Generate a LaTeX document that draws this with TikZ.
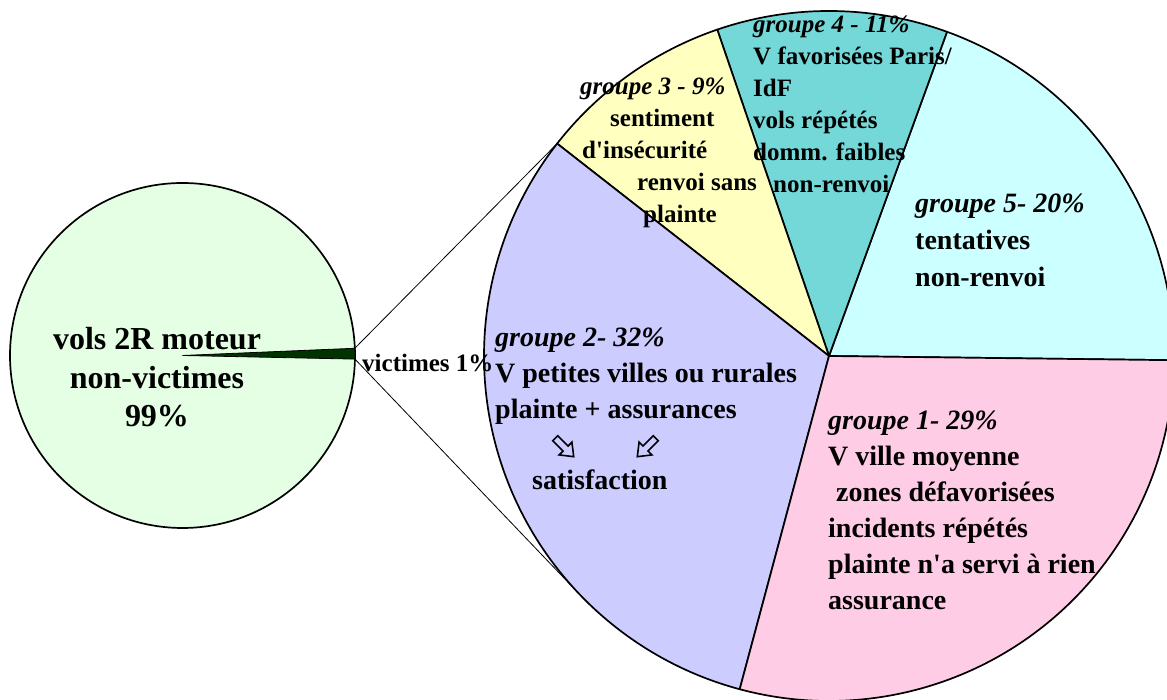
\documentclass[tikz,border=0pt]{standalone}
\usepackage{fontspec}
\setmainfont{Liberation Serif}
\definecolor{bgreen}{RGB}{229,255,229}
\definecolor{dgreen}{RGB}{0,51,0}
\definecolor{gblue}{RGB}{204,204,255}
\definecolor{gyellow}{RGB}{255,255,192}
\definecolor{gteal}{RGB}{117,216,216}
\definecolor{gcyan}{RGB}{204,255,255}
\definecolor{gpink}{RGB}{255,204,230}
\tikzset{
  slice/.style={draw=black, line width=1.7pt, line join=round},
  conn/.style={draw=black, line width=0.8pt},
  lbl/.style={inner sep=0pt, anchor=base west, text=black},
  big/.style={font=\fontsize{32}{38.5}\selectfont\bfseries},
  mid/.style={font=\fontsize{28}{36}\selectfont\bfseries},
  small/.style={font=\fontsize{25}{32}\selectfont\bfseries},
  harrow/.pic={\draw[line width=1.6pt, line join=miter]
     (-13,-3.5) -- (1.5,-3.5) -- (1.5,-9) -- (13,0) -- (1.5,9) -- (1.5,3.5) -- (-13,3.5) -- cycle;}
}
\newcommand\pieslice[3]{\filldraw[fill=#1, slice] (B) -- ++(#2:345) arc[start angle=#2, end angle=#3, radius=345] -- cycle;}
\begin{document}
\begin{tikzpicture}[x=1pt,y=1pt]
\useasboundingbox (0,0) rectangle (1167,700);
\clip (0,0) rectangle (1167,700);
\coordinate (S) at (182.5,344.5);
\coordinate (B) at (829,344);
% left pie
\filldraw[fill=bgreen, slice] (S) circle[radius=172.5];
\node[big, inner sep=0pt, anchor=base] (lefttext) at (157,350)
  {\begin{tabular}[t]{@{}c@{}}vols 2R moteur\\non-victimes\\99\%\end{tabular}};
\filldraw[fill=dgreen, draw=black, line width=0.8pt] (S) -- ++(-1.2:172.5) arc[start angle=-1.2, end angle=2.4, radius=172.5] -- cycle;
\coordinate (wt) at ([shift={(2.4:172.5)}]S);
\coordinate (wb) at ([shift={(-1.2:172.5)}]S);
% big pie
\pieslice{gcyan}{-0.7}{70}
\pieslice{gteal}{70}{108.9}
\pieslice{gyellow}{108.9}{142}
\pieslice{gblue}{142}{255}
\pieslice{gpink}{255}{359.3}
\coordinate (pt) at ([shift={(142:345)}]B);
\coordinate (pb) at ([shift={(223.6:345)}]B);
\draw[conn] (wt) -- (pt);
\draw[conn] (wb) -- (pb);
% labels
\node[lbl, font=\fontsize{25}{30}\selectfont\bfseries] (vict) at (362,328) {victimes 1\%};
\node[lbl, mid] (g1) at (828,270) {\begin{tabular}[t]{@{}l@{}}\textit{groupe 1- 29\%}\\V ville moyenne\\\hspace*{8pt}zones défavorisées\\incidents répétés\\plainte n\textquotesingle a servi à rien\\assurance\end{tabular}};
\node[lbl, mid] (g2) at (495,353) {\begin{tabular}[t]{@{}l@{}}\textit{groupe 2- 32\%}\\V petites villes ou rurales\\plainte + assurances\end{tabular}};
\node[lbl, mid] (sat) at (532,210) {satisfaction};
\pic[rotate=-45] at (564.5,252.5) {harrow};
\pic[rotate=-135] at (646.5,252.5) {harrow};
\node[lbl, small] (g3) at (580,605) {\begin{tabular}[t]{@{}l@{}}\textit{groupe 3 - 9\%}\\\hspace*{30pt}sentiment\\\hspace*{2pt}d\textquotesingle insécurité\\\hspace*{57pt}renvoi sans\\\hspace*{63pt}plainte\end{tabular}};
\node[lbl, small] (g4) at (753,667) {\begin{tabular}[t]{@{}l@{}}\textit{groupe 4 - 11\%}\\V favorisées Paris/\\IdF\\vols répétés\\domm. faibles\\\hspace*{20pt}non-renvoi\end{tabular}};
\node[lbl, font=\fontsize{28}{37}\selectfont\bfseries] (g5) at (915,487) {\begin{tabular}[t]{@{}l@{}}\textit{groupe 5- 20\%}\\tentatives\\non-renvoi\end{tabular}};
\end{tikzpicture}
\end{document}
